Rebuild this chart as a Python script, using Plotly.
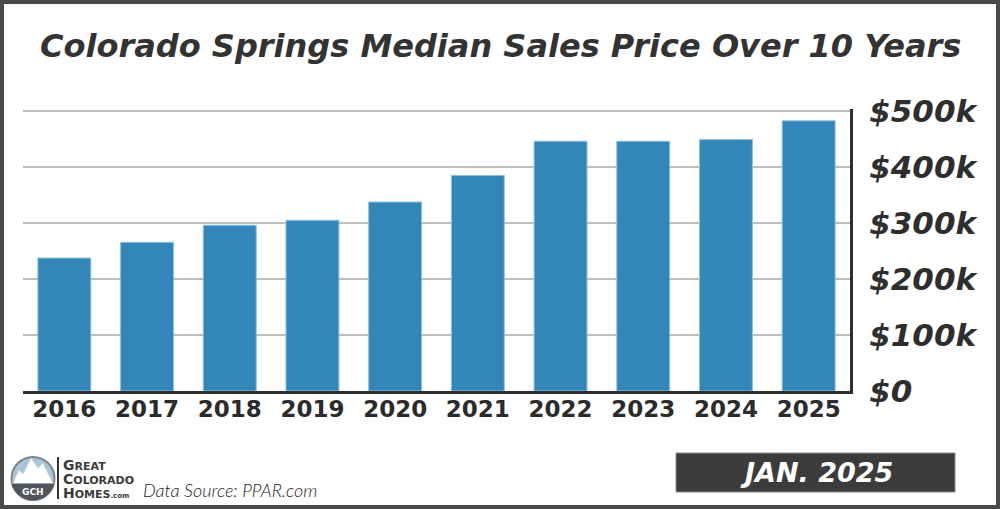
import math
import plotly.graph_objects as go

# ---------------- data ----------------
years = ["2016", "2017", "2018", "2019", "2020", "2021", "2022", "2023", "2024", "2025"]
median_price = [237500, 265500, 296000, 305000, 337500, 385000, 446000, 446000, 449000, 482500]
ytick_vals = [0, 100000, 200000, 300000, 400000, 500000]
ytick_text = ["$0", "$100k", "$200k", "$300k", "$400k", "$500k"]

title_text = "Colorado Springs Median Sales Price Over 10 Years"
source_text = "Data Source: PPAR.com"
date_text = "JAN. 2025"

# ---------------- layout geometry ----------------
W, H = 1000, 509
L, R, T, B = 23, 150, 109, 118
PW, PH = W - L - R, H - T - B
Y_TOP = 500000 * PH / (PH - 2)   # keeps $500k gridline 2px inside the plot area


def xp(px):
    return (px - L) / PW


def yp(py):
    return (H - B - py) / PH


BAR = "#3387b8"
DARK = "#2e2e2e"

fig = go.Figure()
fig.add_trace(go.Bar(
    x=years, y=median_price,
    marker=dict(color=BAR, line=dict(color="#8fc0dc", width=1)),
    width=0.64, hoverinfo="x+y",
))

shapes = []
annotations = []

# outer frame
shapes.append(dict(type="rect", xref="paper", yref="paper", layer="above",
                   x0=xp(2), x1=xp(998), y0=yp(507), y1=yp(2),
                   line=dict(color="#4a4a4a", width=4), fillcolor="rgba(0,0,0,0)"))

# title
annotations.append(dict(text=title_text, xref="paper", yref="paper",
                        x=xp(500), y=yp(46), xanchor="center", yanchor="middle",
                        showarrow=False,
                        font=dict(family="DejaVu Sans", size=32, color="#333333",
                                  weight="bold", style="italic")))

# date badge
shapes.append(dict(type="rect", xref="paper", yref="paper", layer="above",
                   x0=xp(676), x1=xp(955), y0=yp(492), y1=yp(453),
                   line=dict(color="#8a8a8a", width=1), fillcolor="#3c3c3c"))
annotations.append(dict(text=date_text, xref="paper", yref="paper",
                        x=xp(816), y=yp(473), xanchor="center", yanchor="middle",
                        showarrow=False,
                        font=dict(family="DejaVu Sans", size=27, color="white",
                                  weight="bold", style="italic")))

# data source
annotations.append(dict(text=source_text, xref="paper", yref="paper",
                        x=xp(141), y=yp(490), xanchor="left", yanchor="middle",
                        showarrow=False,
                        font=dict(family="Lato", size=18, color="#222222",
                                  weight=300, style="italic")))

# ---- logo ----
cx, cy, r = 33, 478.5, 21.5
shapes.append(dict(type="circle", xref="paper", yref="paper", layer="above",
                   x0=xp(cx - r), x1=xp(cx + r), y0=yp(cy + r), y1=yp(cy - r),
                   line=dict(color="#7d858c", width=2), fillcolor="#a9c5da"))
mountain = [(12.5, 484), (19, 470), (23, 474), (31, 458), (38, 468), (43, 463), (53.5, 484)]
path = "M " + " L ".join(f"{xp(a):.5f},{yp(b):.5f}" for a, b in mountain) + " Z"
shapes.append(dict(type="path", xref="paper", yref="paper", layer="above", path=path,
                   fillcolor="white", line=dict(color="#c8d3dc", width=1)))
arc = []
for k in range(0, 31):
    ang = math.radians(15 + 150 * k / 30)
    arc.append((cx + r * math.cos(ang), cy + r * math.sin(ang)))
path2 = "M " + " L ".join(f"{xp(a):.5f},{yp(b):.5f}" for a, b in arc) + " Z"
shapes.append(dict(type="path", xref="paper", yref="paper", layer="above", path=path2,
                   fillcolor="#4f555b", line=dict(color="#4f555b", width=1)))
annotations.append(dict(text="<b>GCH</b>", xref="paper", yref="paper",
                        x=xp(cx), y=yp(492), xanchor="center", yanchor="middle",
                        showarrow=False,
                        font=dict(family="DejaVu Sans", size=9, color="white")))
shapes.append(dict(type="line", xref="paper", yref="paper", layer="above",
                   x0=xp(58), x1=xp(58), y0=yp(499), y1=yp(457),
                   line=dict(color="#333333", width=2)))
for txt, yy in [("G<span style='font-size:11px'>REAT</span>", 465),
                ("C<span style='font-size:11px'>OLORADO</span>", 479),
                ("H<span style='font-size:11px'>OMES</span><span style='font-size:7px'>.com</span>", 493)]:
    annotations.append(dict(text=txt, xref="paper", yref="paper",
                            x=xp(61), y=yp(yy), xanchor="left", yanchor="middle",
                            showarrow=False,
                            font=dict(family="DejaVu Sans", size=14, color="#3a3a3a",
                                      weight="bold")))

fig.update_layout(
    width=W, height=H,
    margin=dict(l=L, r=R, t=T, b=B),
    paper_bgcolor="white", plot_bgcolor="white",
    showlegend=False,
    bargap=0.36,
    shapes=shapes, annotations=annotations,
    xaxis=dict(
        type="category", showgrid=False, showline=True, linecolor=DARK, linewidth=3,
        ticks="", ticklabelstandoff=-5,
        tickfont=dict(family="DejaVu Sans", size=23, color="#2b2b2b", weight="bold"),
        zeroline=False, fixedrange=True,
    ),
    yaxis=dict(
        side="right", range=[0, Y_TOP], tickvals=ytick_vals, ticktext=ytick_text,
        showgrid=True, gridcolor="#bdbdbd", gridwidth=2,
        showline=True, linecolor=DARK, linewidth=3,
        ticks="outside", ticklen=10, tickcolor="rgba(0,0,0,0)",
        tickfont=dict(family="DejaVu Sans", size=31, color="#2e2e2e",
                      weight="bold", style="italic"),
        zeroline=False, fixedrange=True,
    ),
)

fig.write_html("out.html", config={"displayModeBar": False},
               post_script="document.body.style.margin='0';document.body.style.overflow='hidden';")
